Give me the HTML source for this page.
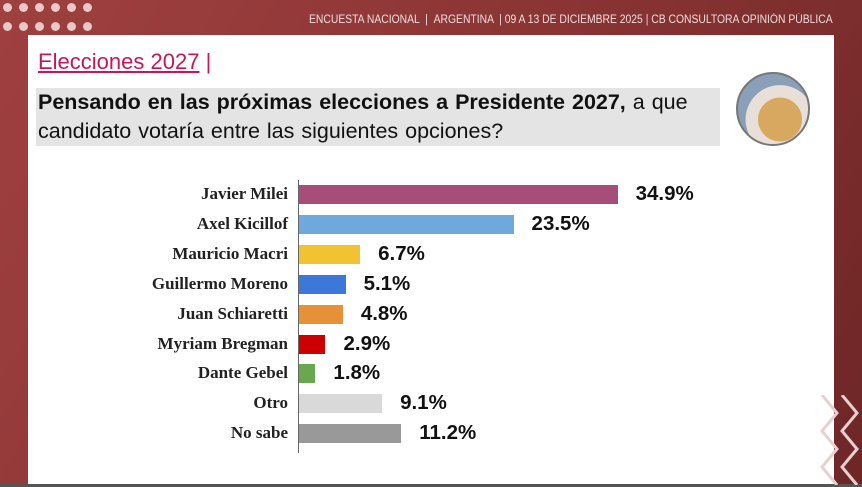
<!DOCTYPE html>
<html><head><meta charset="utf-8"><style>
body{margin:0;width:862px;height:487px;overflow:hidden;background:linear-gradient(120deg,#a04040 0%,#8a3434 50%,#6e2626 100%);font-family:"Liberation Sans",sans-serif;position:relative}
.dot{position:absolute;width:9px;height:9px;border-radius:50%;background:#e8c8c8}
.panel{position:absolute;left:28px;top:35px;width:806px;height:450px;background:#fff}
.hdr{position:absolute;left:309px;top:14px;color:#f0dede;font-size:11.5px;white-space:nowrap;transform-origin:0 0;transform:scaleX(0.9)}
.bar{position:absolute;left:299px;height:19px}
.lab{position:absolute;right:574px;font-family:"Liberation Serif",serif;font-weight:bold;font-size:17px;color:#222;white-space:nowrap}
.val{position:absolute;font-weight:bold;font-size:20.5px;color:#111}
</style></head><body>
<div class="hdr">ENCUESTA NACIONAL &nbsp;| &nbsp;ARGENTINA &nbsp;| 09 A 13 DE DICIEMBRE 2025 | CB CONSULTORA OPINIÓN PÚBLICA</div>
<div class="panel"></div>
<div style="position:absolute;left:0;top:484px;width:862px;height:3px;background:#555"></div>
<svg style="position:absolute;left:812px;top:395px" width="50" height="90"><g fill="none" stroke="#e8d0d0" stroke-width="3"><polyline points="10,0 25,18 10,36 25,54 10,72 25,90"/><polyline points="30,0 45,18 30,36 45,54 30,72 45,90"/></g></svg>
<div style="position:absolute;left:38px;top:49px;font-size:22px;color:#c2185b;"><span style="text-decoration:underline">Elecciones 2027</span> |</div>
<div style="position:absolute;left:36px;top:88px;width:684px;height:58px;background:#e4e4e4"></div>
<div style="position:absolute;left:38px;top:88px;font-size:21.5px;line-height:29px;color:#111;width:700px;white-space:nowrap;word-spacing:1px">
<b>Pensando en las próximas elecciones a Presidente 2027,</b> a que<br>candidato votaría entre las siguientes opciones?</div>
<div style="position:absolute;left:736px;top:72px;width:74px;height:74px;border-radius:50%;border:2px solid #777;background:radial-gradient(circle at 60% 65%,#d9a860 0 35%,#e8e0d8 36% 55%,#8aa0b8 56%);box-sizing:border-box"></div>
<div style="position:absolute;left:298px;top:180px;width:1px;height:273px;background:#666"></div>
<div id="c"></div>
<script>
var d=[["Javier Milei",34.9,"#a64d79"],["Axel Kicillof",23.5,"#6fa8dc"],["Mauricio Macri",6.7,"#f1c232"],["Guillermo Moreno",5.1,"#3c78d8"],["Juan Schiaretti",4.8,"#e69138"],["Myriam Bregman",2.9,"#cc0000"],["Dante Gebel",1.8,"#6aa84f"],["Otro",9.1,"#d9d9d9"],["No sabe",11.2,"#999999"]];
var h="";d.forEach(function(r,i){var y=185+i*29.9,w=r[1]*9.13;
h+='<div class="bar" style="top:'+y+'px;width:'+w+'px;background:'+r[2]+'"></div>';
h+='<div class="lab" style="top:'+(y-1)+'px">'+r[0]+'</div>';
h+='<div class="val" style="top:'+(y-3)+'px;left:'+(299+w+18)+'px">'+r[1].toFixed(1)+'%</div>';});
document.getElementById("c").innerHTML=h;
var s="";for(var j=0;j<2;j++)for(var k=0;k<6;k++)s+='<div class="dot" style="left:'+(3+k*16)+'px;top:'+(3+j*19)+'px"></div>';
document.body.insertAdjacentHTML("beforeend",s);
</script>
</body></html>
